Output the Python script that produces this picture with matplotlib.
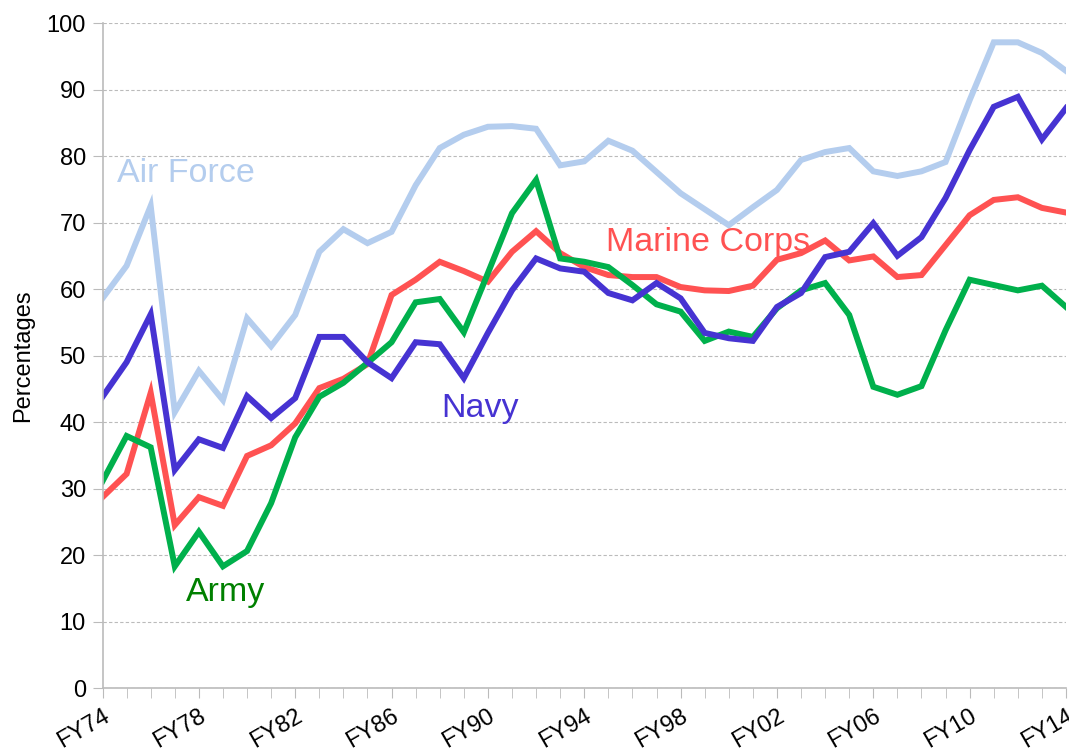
import matplotlib.pyplot as plt

plt.rcParams['font.family'] = ['Liberation Sans', 'DejaVu Sans']

years = list(range(1974, 2015))
labels = ["FY%02d" % (y % 100) for y in years]

air_force = [58.6, 63.5, 72.5, 41.5, 47.7, 43.3, 55.6, 51.4, 56.1, 65.6,
             69.0, 66.9, 68.6, 75.6, 81.2, 83.2, 84.4, 84.5, 84.1, 78.6,
             79.2, 82.3, 80.8, 77.6, 74.4, 72.0, 69.6, 72.3, 74.9, 79.4,
             80.6, 81.2, 77.7, 77.0, 77.7, 79.1, 88.4, 97.1, 97.1, 95.5, 92.8]
navy = [43.8, 49.0, 56.2, 32.8, 37.4, 36.1, 43.9, 40.6, 43.6, 52.8,
        52.8, 49.0, 46.6, 52.0, 51.7, 46.6, 53.4, 59.8, 64.6, 63.1,
        62.6, 59.4, 58.3, 60.9, 58.6, 53.4, 52.6, 52.2, 57.3, 59.4,
        64.8, 65.6, 69.9, 65.0, 67.8, 73.7, 80.9, 87.4, 88.9, 82.5, 87.2]
marine_corps = [28.7, 32.2, 44.4, 24.5, 28.7, 27.4, 34.9, 36.5, 39.8, 45.1,
                46.5, 48.7, 59.1, 61.4, 64.1, 62.7, 61.1, 65.6, 68.7, 65.4,
                63.3, 62.1, 61.8, 61.8, 60.3, 59.8, 59.7, 60.5, 64.4, 65.4,
                67.3, 64.3, 64.9, 61.8, 62.1, 66.6, 71.1, 73.4, 73.8, 72.2, 71.5]
army = [31.1, 37.9, 36.2, 18.3, 23.5, 18.3, 20.6, 27.8, 37.7, 43.8,
        45.9, 48.9, 52.0, 58.0, 58.5, 53.5, 62.4, 71.4, 76.4, 64.6,
        64.1, 63.3, 60.6, 57.7, 56.6, 52.2, 53.6, 52.8, 57.1, 59.8,
        60.9, 56.1, 45.3, 44.1, 45.4, 53.8, 61.4, 60.6, 59.8, 60.5, 57.3]

fig = plt.figure(figsize=(10.69, 7.55), dpi=100)
ax = fig.add_axes([0.0959, 0.0887, 0.9013, 0.8808])

lw = 4.3
ax.plot(years, air_force, color="#B4CDEE", lw=lw, solid_joinstyle="miter")
ax.plot(years, marine_corps, color="#FF5252", lw=lw, solid_joinstyle="miter")
ax.plot(years, army, color="#00B04C", lw=lw, solid_joinstyle="miter")
ax.plot(years, navy, color="#4633D2", lw=lw, solid_joinstyle="miter")

# series labels (placed next to the lines, like the original)
ax.text(1974.6, 76.1, "Air Force", color="#B4CDEE", fontsize=24.5, va="baseline")
ax.text(1988.05, 40.8, "Navy", color="#4633D2", fontsize=24.5, va="baseline")
ax.text(1994.9, 65.7, "Marine Corps", color="#FF5252", fontsize=24.5, va="baseline")
ax.text(1977.45, 13.1, "Army", color="#008000", fontsize=24.5, va="baseline")

ax.set_xlim(1974, 2014)
ax.set_ylim(0, 100)
ax.set_yticks(range(0, 101, 10))
ax.set_xticks(years, minor=True)
ax.set_xticks(years[::4])
ax.set_xticklabels(labels[::4], rotation=30, ha="right", rotation_mode="anchor")

ax.tick_params(axis="y", labelsize=17, length=7, color="#BBBBBB", pad=5)
ax.tick_params(axis="x", which="both", labelsize=17, length=7, color="#BBBBBB", pad=5)

ax.grid(axis="y", linestyle=(0, (3, 2)), color="#BBBBBB", lw=0.8)
ax.set_axisbelow(True)

for s in ["top", "right"]:
    ax.spines[s].set_visible(False)
for s in ["left", "bottom"]:
    ax.spines[s].set_color("#BBBBBB")
    ax.spines[s].set_linewidth(1.2)

ax.set_ylabel("Percentages", fontsize=17, labelpad=9)

fig.savefig("out.png", dpi=100)
